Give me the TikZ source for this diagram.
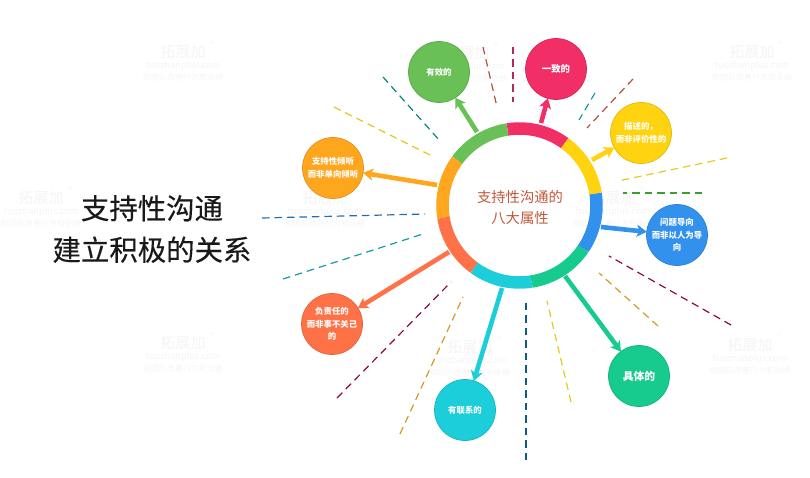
\documentclass[tikz,border=0pt]{standalone}
\usepackage{fontspec}
\setmainfont{Noto Sans CJK SC}
\newfontfamily\titlefont[FakeBold=0.3]{Noto Sans CJK SC}
\usetikzlibrary{arrows.meta}
\definecolor{cEffect}{HTML}{69C056}
\definecolor{cSame}{HTML}{F12E66}
\definecolor{cDescr}{HTML}{FFD30F}
\definecolor{cIssue}{HTML}{3391EE}
\definecolor{cConcr}{HTML}{17CA8D}
\definecolor{cLink}{HTML}{1CCDDA}
\definecolor{cResp}{HTML}{FF7146}
\definecolor{cListen}{HTML}{FFA61F}
\definecolor{cMark}{HTML}{F4F4F4}
\definecolor{hubText}{HTML}{C2573A}
\definecolor{rayTeal}{HTML}{00897B}
\definecolor{rayYellow}{HTML}{E5C820}
\definecolor{rayBlue}{HTML}{1F6FB0}
\definecolor{rayCyan}{HTML}{1A97AC}
\definecolor{rayBrown}{HTML}{B0513A}
\definecolor{rayPink}{HTML}{B02A5E}
\definecolor{rayGreen}{HTML}{3C9E2E}
\definecolor{rayWine}{HTML}{8B0A45}
\definecolor{rayGold}{HTML}{D69A24}
\definecolor{rayNavy}{HTML}{0F5B85}
\tikzset{
  attr/.style={circle, minimum size=61pt, inner sep=0pt, line width=0.7pt, draw=#1!88!black, fill=#1,
    text=white, align=center, font=\fontsize{8.4}{12.7}\selectfont\bfseries},
  seg/.style={line width=12.5pt, draw=#1},
  lead/.style={line width=4.6pt, draw=#1, fill=#1, -{Stealth[length=10pt, width=12pt, inset=2.5pt]}, shorten >=-0.5pt},
  ray/.style={line width=1.2pt, dash pattern=on 7.5pt off 5pt, draw=#1},
  wmark/.style={text=cMark, inner sep=0pt}
}
\begin{document}
\begin{tikzpicture}[x=1pt, y=1pt]
    \useasboundingbox (0,0) rectangle (810,477);
    % faint marks behind everything
    \foreach \wx/\wy in {183/425, 467/424, 752/425, 41/279, 325/279, 613/279, 183/134, 470/130, 750/132} {
        \node[wmark, font=\fontsize{15}{15}\selectfont] (markA\wx) at (\wx,\wy) {拓展加};
        \node[wmark, font=\fontsize{9.2}{9}\selectfont] (markB\wx) at (\wx,\wy-14) {tuozhanplus.com};
        \node[wmark, font=\fontsize{8}{8}\selectfont] (markC\wx) at (\wx,\wy-25) {助团队改善行为和业绩};
        \node[wmark, font=\fontsize{8}{8}\selectfont] (markD\wx) at (\wx+29,\wy+8) {®};
    }
    % rays
    \coordinate (r1a) at (383,400); \coordinate (r1b) at (440,336);
    \coordinate (r2a) at (334,370); \coordinate (r2b) at (432,321);
    \coordinate (r3a) at (262,259); \coordinate (r3b) at (425,263);
    \coordinate (r4a) at (283,198); \coordinate (r4b) at (423,243);
    \coordinate (r5a) at (483,430); \coordinate (r5b) at (497,370);
    \coordinate (r6a) at (513,430); \coordinate (r6b) at (513,375);
    \coordinate (r7a) at (595,384); \coordinate (r7b) at (579,357);
    \coordinate (r8a) at (633,398); \coordinate (r8b) at (587,349);
    \coordinate (r9a) at (727,319); \coordinate (r9b) at (618,296);
    \coordinate (r10a) at (702,284); \coordinate (r10b) at (623,284);
    \coordinate (r11a) at (731,152); \coordinate (r11b) at (609,221);
    \coordinate (r12a) at (658,151); \coordinate (r12b) at (599,204);
    \coordinate (r13a) at (571,75); \coordinate (r13b) at (547,176);
    \coordinate (r14a) at (526,17); \coordinate (r14b) at (526,175);
    \coordinate (r15a) at (400,43); \coordinate (r15b) at (463,180);
    \coordinate (r16a) at (337,79); \coordinate (r16b) at (451,195);
    \draw[ray=rayTeal] (r1a) -- (r1b);
    \draw[ray=rayYellow] (r2a) -- (r2b);
    \draw[ray=rayBlue] (r3a) -- (r3b);
    \draw[ray=rayCyan] (r4a) -- (r4b);
    \draw[ray=rayBrown] (r5a) -- (r5b);
    \draw[ray=rayPink] (r6a) -- (r6b);
    \draw[ray=rayCyan] (r7a) -- (r7b);
    \draw[ray=rayBrown] (r8a) -- (r8b);
    \draw[ray=rayYellow] (r9a) -- (r9b);
    \draw[ray=rayGreen] (r10a) -- (r10b);
    \draw[ray=rayWine] (r11a) -- (r11b);
    \draw[ray=rayGold] (r12a) -- (r12b);
    \draw[ray=rayYellow] (r13a) -- (r13b);
    \draw[ray=rayNavy] (r14a) -- (r14b);
    \draw[ray=rayGold] (r15a) -- (r15b);
    \draw[ray=rayWine] (r16a) -- (r16b);
    % ring
    \coordinate (hub) at (519.5,271.5);
    \draw[seg=cSame] (hub) ++(54:77) arc (54:99:77);
    \draw[seg=cEffect] (hub) ++(99:77) arc (99:144:77);
    \draw[seg=cListen] (hub) ++(144:77) arc (144:189:77);
    \draw[seg=cResp] (hub) ++(189:77) arc (189:234:77);
    \draw[seg=cLink] (hub) ++(234:77) arc (234:279:77);
    \draw[seg=cConcr] (hub) ++(279:77) arc (279:326:77);
    \draw[seg=cIssue] (hub) ++(326:77) arc (326:369:77);
    \draw[seg=cDescr] (hub) ++(9:77) arc (9:54:77);
    \node[inner sep=0pt, text=hubText, align=center, font=\fontsize{14.3}{21}\selectfont] (hubLabel) at (520,269.5) {支持性沟通的\\八大属性};
    % attribute circles
    \node[attr=cEffect] (effect) at (439,405) {有效的};
    \node[attr=cSame, font=\fontsize{9.4}{12.7}\selectfont\bfseries] (same) at (556,408) {一致的};
    \node[attr=cDescr] (descr) at (641,344) {描述的，\\而非评价性的};
    \node[attr=cIssue] (issue) at (677,242) {问题导向\\而非以人为导\\向};
    \node[attr=cConcr, font=\fontsize{10.8}{12.7}\selectfont\bfseries] (concr) at (639,101) {具体的};
    \node[attr=cLink] (link) at (465,67) {有联系的};
    \node[attr=cResp] (resp) at (332,153) {负责任的\\而非事不关己\\的};
    \node[attr=cListen] (listen) at (333,309) {支持性倾听\\而非单向倾听};
    % leads from ring to circles
    \coordinate (rimEffect) at (477,345);
    \coordinate (rimSame) at (541,354);
    \coordinate (rimDescr) at (592,317);
    \coordinate (rimIssue) at (601,250);
    \coordinate (rimConcr) at (565,201);
    \coordinate (rimLink) at (502,189);
    \coordinate (rimResp) at (449,225);
    \coordinate (rimListen) at (437,292);
    \draw[lead=cEffect] (rimEffect) -- (effect);
    \draw[lead=cSame] (rimSame) -- (same);
    \draw[lead=cDescr] (rimDescr) -- (descr);
    \draw[lead=cIssue] (rimIssue) -- (issue);
    \draw[lead=cConcr] (rimConcr) -- (concr);
    \draw[lead=cLink] (rimLink) -- (link);
    \draw[lead=cResp] (rimResp) -- (resp);
    \draw[lead=cListen] (rimListen) -- (listen);
    % title
    \node[inner sep=0pt, text=black!90, align=center, font=\titlefont\fontsize{28.4}{41.5}\selectfont] (title) at (152,248) {支持性沟通\\建立积极的关系};
\end{tikzpicture}
\end{document}
